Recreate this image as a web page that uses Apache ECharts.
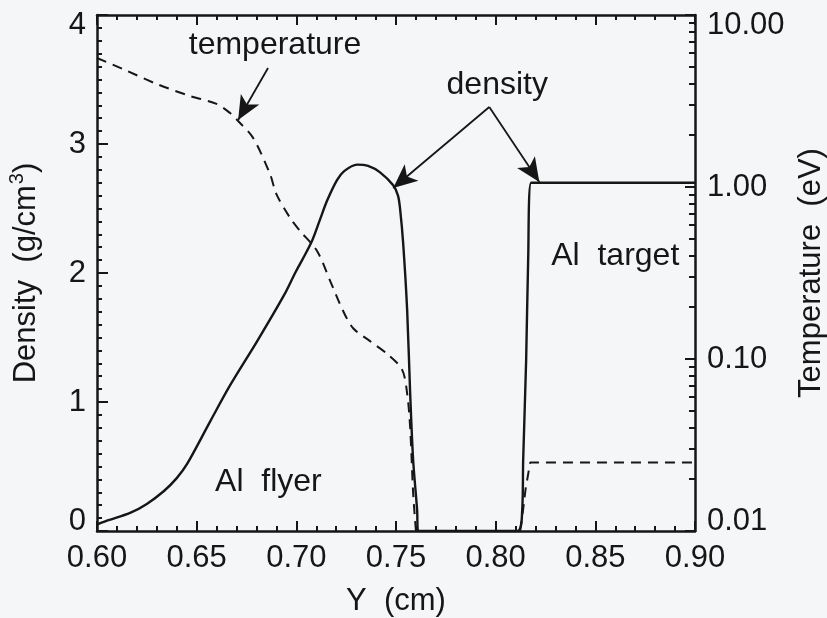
<!DOCTYPE html>
<html>
<head>
<meta charset="utf-8">
<script src="https://cdn.jsdelivr.net/npm/echarts@6/dist/echarts.min.js"></script>
<style>
  html, body { margin: 0; padding: 0; background: #f4f6f7; }
  #chart { width: 827px; height: 618px; }
</style>
</head>
<body>
<div id="chart"></div>
<script>
// Density profile along Y (cm), g/cm^3
const densityY = [0.600, 0.605, 0.6166, 0.625, 0.6336, 0.6400, 0.6452, 0.6568, 0.6668, 0.6803, 0.6939,
  0.6994, 0.7029, 0.7079, 0.7120, 0.7154, 0.7204, 0.7240, 0.7305, 0.7360, 0.7420, 0.7486,
  0.7510, 0.7521, 0.7536, 0.7556, 0.7571, 0.7586, 0.7606, 0.7611,
  0.8108, 0.8133, 0.8138, 0.8153, 0.8163, 0.8178, 0.9000];
const density = [0.05, 0.08, 0.14, 0.21, 0.31, 0.41, 0.52, 0.85, 1.13, 1.47, 1.83,
  2.00, 2.10, 2.25, 2.42, 2.56, 2.72, 2.79, 2.84, 2.83, 2.78, 2.68,
  2.60, 2.49, 2.23, 1.71, 1.07, 0.55, 0.16, 0.0,
  0.0, 0.16, 0.55, 1.33, 2.10, 2.70, 2.70];

// Temperature (eV) in the flyer and in the target
const tempFlyerY = [0.600, 0.613, 0.630, 0.6467, 0.660, 0.6668, 0.6708, 0.6783, 0.6868, 0.690,
  0.6969, 0.7019, 0.7104, 0.717, 0.7235, 0.7285, 0.737, 0.7456, 0.753, 0.7556, 0.7571, 0.7586, 0.7600];
const tempFlyer = [5.62, 4.85, 3.97, 3.38, 3.04, 2.69, 2.42, 1.93, 1.19, 0.91,
  0.66, 0.555, 0.425, 0.284, 0.190, 0.151, 0.127, 0.107, 0.087, 0.063, 0.040, 0.0166, 0.0100];
const tempTargetY = [0.8123, 0.8138, 0.8150, 0.8163, 0.8173, 0.9000];
const tempTarget = [0.0100, 0.0134, 0.0175, 0.0214, 0.0250, 0.0250];

// Axis ticks
const temperatureTicks = [0.01, 0.1, 1, 10];
const temperatureTickLabels = ['0.01', '0.10', '1.00', '10.00'];
const temperatureMinorTicks = [0.02, 0.03, 0.04, 0.05, 0.06, 0.07, 0.08, 0.09,
  0.2, 0.3, 0.4, 0.5, 0.6, 0.7, 0.8, 0.9, 2, 3, 4, 5, 6, 7, 8, 9];

// Annotations: [Y, density, text]
const notes = [
  [0.6893, 3.767, 'temperature'],
  [0.8008, 3.457, 'density'],
  [0.8600, 2.132, 'Al  target'],
  [0.6860, 0.380, 'Al  flyer']
];
// Arrows: from [Y, density] to [Y, density]
const arrows = [
  [[0.6858, 3.589], [0.6708, 3.186]],
  [[0.7968, 3.287], [0.7486, 2.659]],
  [[0.7968, 3.287], [0.8219, 2.705]]
];

const FONT = '"Liberation Sans", Arial, Helvetica, sans-serif';
const INK = '#161616';

const pair = (xs, ys) => xs.map((x, i) => [x, ys[i]]);

const tickStyle = { color: INK, width: 2 };
const chart = echarts.init(document.getElementById('chart'));
chart.setOption({
  animation: false,
  backgroundColor: '#f4f6f7',
  textStyle: { fontFamily: FONT, color: INK },
  grid: { left: 97, right: 132, top: 15, bottom: 87, outerBoundsMode: 'none', containLabel: false },
  xAxis: [{
    type: 'value', position: 'bottom', min: 0.60, max: 0.90, interval: 0.05,
    name: 'Y  (cm)', nameLocation: 'middle', nameGap: 55,
    nameTextStyle: { fontSize: 31, color: INK, fontFamily: FONT },
    axisLine: { onZero: false, lineStyle: { color: INK, width: 2.5 } },
    axisTick: { inside: true, length: 10, lineStyle: tickStyle },
    minorTick: { show: true, splitNumber: 5, length: 5, lineStyle: tickStyle },
    axisLabel: { fontSize: 31, margin: 12, color: INK, fontFamily: FONT,
      formatter: v => v.toFixed(2) },
    splitLine: { show: false }
  }, {
    type: 'value', position: 'top', min: 0.60, max: 0.90, interval: 0.05,
    axisLine: { onZero: false, lineStyle: { color: INK, width: 2.5 } },
    axisTick: { inside: true, length: 10, lineStyle: tickStyle },
    minorTick: { show: true, splitNumber: 5, length: 5, lineStyle: tickStyle },
    axisLabel: { show: false },
    splitLine: { show: false }
  }],
  yAxis: [{
    type: 'value', position: 'left', min: 0, max: 4, interval: 1,
    name: '{a|Density  (g/cm}{s|3}{a|)}', nameLocation: 'middle', nameRotate: 90, nameGap: 52,
    nameTextStyle: { fontSize: 31, color: INK, fontFamily: FONT,
      rich: {
        a: { fontSize: 31, color: INK, fontFamily: FONT },
        s: { fontSize: 20, color: INK, fontFamily: FONT, padding: [0, 0, 18, 1] }
      } },
    axisLine: { onZero: false, lineStyle: { color: INK, width: 2.5 } },
    axisTick: { inside: true, length: 11, lineStyle: tickStyle },
    minorTick: { show: true, splitNumber: 10, length: 5, lineStyle: tickStyle },
    axisLabel: { fontSize: 31, margin: 11, lineHeight: 20, color: INK, fontFamily: FONT,
      verticalAlignMinLabel: 'bottom', verticalAlignMaxLabel: 'top' },
    splitLine: { show: false }
  }, {
    type: 'log', position: 'right', min: 0.01, max: 10, logBase: 10,
    name: 'Temperature  (eV)', nameLocation: 'middle', nameRotate: 90, nameGap: 99,
    nameTextStyle: { fontSize: 31, color: INK, fontFamily: FONT },
    axisLine: { onZero: false, lineStyle: { color: INK, width: 2.5 } },
    axisTick: { inside: true, length: 10, lineStyle: tickStyle, customValues: temperatureTicks },
    axisLabel: { fontSize: 31, margin: 12, lineHeight: 20, color: INK, fontFamily: FONT,
      customValues: temperatureTicks,
      formatter: v => temperatureTickLabels[temperatureTicks.findIndex(t => Math.abs(Math.log10(t) - Math.log10(v)) < 1e-6)] || '',
      verticalAlignMinLabel: 'bottom', verticalAlignMaxLabel: 'top' },
    splitLine: { show: false }
  }, {
    // log-spaced minor ticks of the temperature axis (axis in log10 units)
    type: 'value', position: 'right', min: -2, max: 1,
    axisLine: { show: false, onZero: false },
    axisTick: { inside: true, length: 6, lineStyle: tickStyle,
      customValues: temperatureMinorTicks.map(v => Math.log10(v)) },
    axisLabel: { show: false },
    splitLine: { show: false }
  }],
  series: [{
    name: 'density', type: 'line', xAxisIndex: 0, yAxisIndex: 0,
    data: pair(densityY, density),
    showSymbol: false, smooth: 0.3,
    lineStyle: { color: INK, width: 2.4 },
    markPoint: {
      silent: true, symbol: 'circle', symbolSize: 0,
      label: { show: true, position: 'inside', formatter: '{b}', fontSize: 32, color: INK, fontFamily: FONT },
      data: notes.map(n => ({ name: n[2], coord: [n[0], n[1]] }))
    },
    markLine: {
      silent: true, symbol: ['none', 'arrow'], symbolSize: [16, 24],
      label: { show: false },
      lineStyle: { type: 'solid', color: INK, width: 1.8 },
      emphasis: { disabled: true },
      data: arrows.map(a => [{ coord: a[0] }, { coord: a[1] }])
    }
  }, {
    name: 'temperature flyer', type: 'line', xAxisIndex: 0, yAxisIndex: 1,
    data: pair(tempFlyerY, tempFlyer),
    showSymbol: false, smooth: 0.3,
    lineStyle: { color: INK, width: 2, type: [10, 7] }
  }, {
    name: 'temperature target', type: 'line', xAxisIndex: 0, yAxisIndex: 1,
    data: pair(tempTargetY, tempTarget),
    showSymbol: false,
    lineStyle: { color: INK, width: 2, type: [10, 7] }
  }]
});
</script>
</body>
</html>
